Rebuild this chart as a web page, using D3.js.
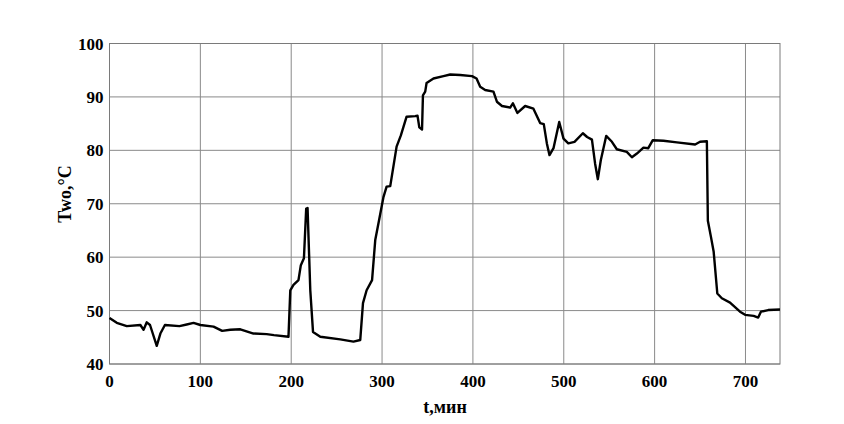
<!DOCTYPE html>
<html>
<head>
<meta charset="utf-8">
<script src="https://cdn.jsdelivr.net/npm/d3@7"></script>
<style>
  body { margin: 0; background: #fff; }
  text { font-family: "Liberation Serif", "Times New Roman", serif; font-weight: bold; fill: #000; }
</style>
</head>
<body>
<script>
// time, min
var tValues = [0, 8, 19, 34, 37.5, 41, 44.6, 52, 56, 61, 77, 85, 92.5, 100, 114.5, 124, 133, 144, 158.5, 173, 181, 197,
  199, 202.5, 208, 210.6, 214, 216.5, 218, 221, 224, 232, 254, 268.5, 276,
  279, 283, 289, 292.5, 297, 301.6, 305, 309, 316, 320.7, 327, 336.5, 339, 341, 344, 345, 347.5, 349, 356.6, 367.6, 375, 386, 399,
  404, 408, 413.5, 422.6, 426.4, 432, 441, 444, 449, 457.5, 466.6, 474, 478, 481.4, 484.3, 488.7, 495, 499.7, 505, 511.8,
  521, 525.7, 531, 534.5, 537.5, 540.8, 546.7, 553, 558.4, 569.4, 575, 580.5, 587.7, 593, 598, 609.7, 624.5, 644.6, 650, 657.5,
  658.6, 662, 665, 669, 674, 683, 694, 699.6, 709, 714, 717, 725, 738];
// Two, °C
var twoValues = [48.6, 47.7, 47.1, 47.3, 46.4, 47.8, 47.3, 43.4, 45.7, 47.3, 47.1, 47.4, 47.7, 47.3, 47, 46.2, 46.4, 46.5, 45.7, 45.6, 45.4, 45.1,
  53.8, 54.8, 55.7, 58.5, 59.8, 69.1, 69.2, 53.8, 46, 45.1, 44.6, 44.2, 44.5,
  51.4, 53.8, 55.7, 63.2, 67.2, 71.3, 73.2, 73.3, 80.7, 82.8, 86.3, 86.4, 86.5, 84.3, 83.9, 90.3, 91, 92.6, 93.45, 93.9, 94.2, 94.1, 93.9,
  93.45, 91.9, 91.3, 91, 89.1, 88.3, 88, 88.8, 87, 88.3, 87.8, 85.1, 84.9, 81.3, 79.1, 80.4, 85.3, 82.2, 81.3, 81.6,
  83.2, 82.5, 82, 77.5, 74.6, 78.2, 82.7, 81.6, 80.2, 79.7, 78.7, 79.4, 80.5, 80.4, 81.9, 81.8, 81.5, 81.1, 81.6, 81.7,
  66.8, 63.8, 61, 53.2, 52.3, 51.5, 49.8, 49.2, 49, 48.7, 49.8, 50.1, 50.2];
var xTicks = [0, 100, 200, 300, 400, 500, 600, 700];
var yTicks = [40, 50, 60, 70, 80, 90, 100];

var width = 844, height = 424;
var margin = { left: 109.5, top: 43.5, right: 64, bottom: 60 };

var svg = d3.select("body").append("svg").attr("width", width).attr("height", height);

var x = d3.scaleLinear().domain([0, 738]).range([margin.left, width - margin.right]);
var y = d3.scaleLinear().domain([40, 100]).range([height - margin.bottom, margin.top]);

// grid
svg.append("g").selectAll("line.v").data(xTicks).enter().append("line")
  .attr("x1", function(d) { return x(d); }).attr("x2", function(d) { return x(d); })
  .attr("y1", y(40)).attr("y2", y(100))
  .attr("stroke", "#8a8a8a").attr("stroke-width", 1);
svg.append("g").selectAll("line.h").data(yTicks).enter().append("line")
  .attr("y1", function(d) { return y(d); }).attr("y2", function(d) { return y(d); })
  .attr("x1", x(0)).attr("x2", x(738))
  .attr("stroke", "#8a8a8a").attr("stroke-width", 1);

// frame
svg.append("rect")
  .attr("x", x(0)).attr("y", y(100))
  .attr("width", x(738) - x(0)).attr("height", y(40) - y(100))
  .attr("fill", "none").attr("stroke", "#7a7a7a").attr("stroke-width", 1);

// tick labels
svg.append("g").selectAll("text").data(xTicks).enter().append("text")
  .attr("x", function(d) { return x(d); })
  .attr("y", y(40) + 23)
  .attr("text-anchor", "middle")
  .attr("font-size", 17)
  .text(function(d) { return d; });
svg.append("g").selectAll("text").data(yTicks).enter().append("text")
  .attr("x", x(0) - 6)
  .attr("y", function(d) { return y(d) + 6; })
  .attr("text-anchor", "end")
  .attr("font-size", 17)
  .text(function(d) { return d; });

// axis titles
svg.append("text")
  .attr("x", 445).attr("y", 413)
  .attr("text-anchor", "middle")
  .attr("font-size", 18)
  .text("t,мин");
svg.append("text")
  .attr("transform", "translate(71,194) rotate(-90)")
  .attr("text-anchor", "middle")
  .attr("font-size", 18)
  .text("Two,°C");

// series
var line = d3.line()
  .x(function(d, i) { return x(tValues[i]); })
  .y(function(d) { return y(d); });
svg.append("path")
  .datum(twoValues)
  .attr("d", line)
  .attr("fill", "none")
  .attr("stroke", "#000")
  .attr("stroke-width", 2.4)
  .attr("stroke-linejoin", "round");
</script>
</body>
</html>
